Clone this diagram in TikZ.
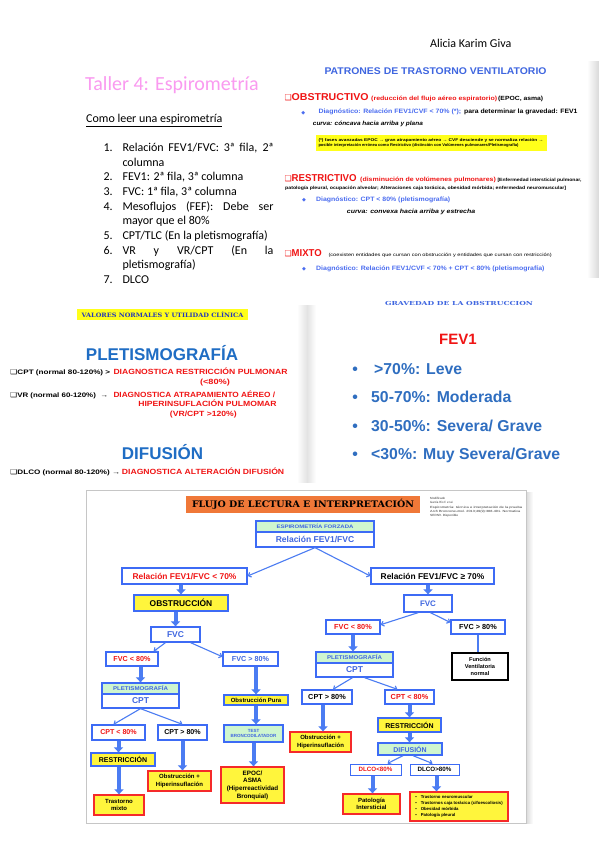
\documentclass[tikz,border=0pt]{standalone}
\usepackage{fontspec}
\usepackage{graphicx}
\setmainfont{Liberation Sans}
\newfontfamily\calib{Carlito}
\newfontfamily\slab{DejaVu Serif}
\newfontfamily\dvs{DejaVu Sans}
\usetikzlibrary{arrows.meta,calc}

\definecolor{tpink}{HTML}{FA9AF0}
\definecolor{tred}{HTML}{F01414}
\definecolor{sblue}{HTML}{3F66E0}
\definecolor{dblue}{HTML}{4A6CF0}
\definecolor{pblue}{HTML}{1F6DC4}
\definecolor{lblue}{HTML}{2F6EC0}
\definecolor{bxblue}{HTML}{3D6BF5}
\definecolor{arblue}{HTML}{4B7CF2}
\definecolor{fgrn}{HTML}{CFF6CF}
\definecolor{fyel}{HTML}{FFF53C}
\definecolor{tyel}{HTML}{FFFF1A}
\definecolor{forg}{HTML}{F07838}
\definecolor{bxred}{HTML}{F52A2A}
\definecolor{vblue}{HTML}{2438B8}

\newcommand\fsz[2]{\fontsize{#1}{#2}\selectfont}
\newcommand\fitw[2]{\resizebox{#1}{\height}{#2}}

\tikzset{
 txt/.style={inner sep=0pt, anchor=base west},
 ctxt/.style={inner sep=0pt, anchor=base},
 fb/.style={draw=bxblue, line width=1.3pt, fill=white, inner sep=0pt, align=center},
 yb/.style={fb, fill=fyel},
 gb/.style={fb, fill=fgrn},
 rb/.style={draw=bxred, line width=1.3pt, fill=fyel, inner sep=0pt, align=center},
 tarr/.style={draw=arblue, line width=4pt, -{Triangle[width=9pt,length=5pt]}},
 narr/.style={draw=arblue, line width=1.1pt, -{Straight Barb[length=2.5pt,width=5pt]}},
}

\begin{document}
\begin{tikzpicture}[x=1pt,y=-1pt]
\useasboundingbox (0,0) rectangle (599,848);
\fill[white] (0,0) rectangle (599,848);

% ---------- shadows ----------
\shade[left color=white,right color=gray!30] (587,62) rectangle (599,277);
\shade[left color=white,right color=gray!22] (297,305) rectangle (307,482);
\shade[left color=gray!22,right color=white] (307,305) rectangle (316,482);

% ---------- header / top left ----------
\node[txt, font=\calib\fsz{12}{12}] (auth) at (430,48) {Alicia Karim Giva};
\node[txt, font=\calib\fsz{20}{20}, text=tpink] (tit) at (85,91) {Taller 4: Espirometría};
\node[txt, font=\calib\fsz{12}{12}] (como) at (86,122.7) {\underline{Como leer una espirometría}};

\begin{scope}[every node/.style={txt, font=\calib\fsz{12}{12}}]
\node (n1) at (103.3,151.5) {1.};
\node (i1a) at (122.3,151.5) {\makebox[151pt][s]{Relación FEV1/FVC: 3ª fila, 2ª}};
\node (i1b) at (122.3,166.15) {columna};
\node (n2) at (103.3,180.8) {2.};
\node (i2) at (122.3,180.8) {FEV1: 2ª fila, 3ª columna};
\node (n3) at (103.3,195.45) {3.};
\node (i3) at (122.3,195.45) {FVC: 1ª fila, 3ª columna};
\node (n4) at (103.3,210.1) {4.};
\node (i4a) at (122.3,210.1) {\makebox[151pt][s]{Mesoflujos (FEF): Debe ser}};
\node (i4b) at (122.3,224.75) {mayor que el 80\%};
\node (n5) at (103.3,239.4) {5.};
\node (i5) at (122.3,239.4) {CPT/TLC (En la pletismografía)};
\node (n6) at (103.3,254.05) {6.};
\node (i6a) at (122.3,254.05) {\makebox[151pt][s]{VR y VR/CPT (En la}};
\node (i6b) at (122.3,268.7) {pletismografía)};
\node (n7) at (103.3,283.35) {7.};
\node (i7) at (122.3,283.35) {DLCO};
\end{scope}

% ---------- top right: patrones ----------
\node[ctxt, font=\bfseries\fsz{9.7}{9.7}, text=sblue] (pat) at (435.5,74.3) {\fitw{222pt}{PATRONES DE TRASTORNO VENTILATORIO}};

\node[txt, font=\dvs\fsz{8}{8}, text=tred] (sq1) at (284.5,100.7) {❑};
\node[txt, font=\bfseries\fsz{10}{10}, text=tred] (obst) at (291.5,100.7) {\fitw{77pt}{OBSTRUCTIVO}};
\node[txt, font=\bfseries\fsz{6}{6}, text=tred] (obst2) at (371,100.7) {\fitw{126pt}{(reducción del flujo aéreo espiratorio)}};
\node[txt, font=\bfseries\fsz{6}{6}] (obst3) at (498,100.7) {\fitw{45pt}{(EPOC, asma)}};
\node[ctxt, font=\dvs\fsz{5}{5}, text=dblue] (d1) at (303.3,114) {◆};
\node[txt, font=\bfseries\fsz{6.3}{6.3}, text=dblue] (dg1) at (318.3,114) {\fitw{142.7pt}{Diagnóstico: Relación FEV1/CVF < 70\% (*);}};
\node[txt, font=\bfseries\fsz{6.3}{6.3}] (dg1b) at (464,114) {\fitw{113.3pt}{para determinar la gravedad: FEV1}};
\node[txt, font=\bfseries\itshape\fsz{6}{6}] (cv1) at (312.7,125.7) {\fitw{110pt}{curva: cóncava hacia arriba y plana}};
\node[fill=tyel, inner sep=0pt, minimum width=231pt, minimum height=15.7pt] (note) at (431.5,142.9) {};
\node[txt, font=\bfseries\fsz{4}{4}] (nt1) at (318.3,141) {\fitw{225pt}{(*) fases avanzadas EPOC → gran atrapamiento aéreo → CVF desciende y se normaliza relación →}};
\node[txt, font=\bfseries\fsz{4}{4}] (nt2) at (318.3,146.8) {\fitw{200pt}{posible interpretación errónea como Restrictivo (distinción con Volúmenes pulmonares/Pletismografía)}};

\node[txt, font=\dvs\fsz{8}{8}, text=tred] (sq2) at (284.5,181) {❑};
\node[txt, font=\bfseries\fsz{10}{10}, text=tred] (rest) at (291.5,181) {\fitw{65pt}{RESTRICTIVO}};
\node[txt, font=\bfseries\fsz{6}{6}, text=tred] (rest2) at (360,181) {\fitw{135.7pt}{(disminución de volúmenes pulmonares)}};
\node[txt, font=\bfseries\fsz{4.5}{4.5}] (rest3) at (497.3,181) {\fitw{84pt}{[Enfermedad intersticial pulmonar,}};
\node[txt, font=\bfseries\fsz{4.5}{4.5}] (rest4) at (285,189) {\fitw{281pt}{patología pleural, ocupación alveolar; Alteraciones caja torácica, obesidad mórbida; enfermedad neuromuscular]}};
\node[ctxt, font=\dvs\fsz{5}{5}, text=dblue] (d2) at (304,201) {◆};
\node[txt, font=\bfseries\fsz{6.3}{6.3}, text=dblue] (dg2) at (316,201) {\fitw{134pt}{Diagnóstico: CPT < 80\% (pletismografía)}};
\node[txt, font=\bfseries\itshape\fsz{6}{6}] (cv2) at (346.7,213.5) {\fitw{128.3pt}{curva: convexa hacia arriba y estrecha}};

\node[txt, font=\dvs\fsz{8}{8}, text=tred] (sq3) at (284.5,256) {❑};
\node[txt, font=\bfseries\fsz{10}{10}, text=tred] (mix) at (291.5,256) {\fitw{30pt}{MIXTO}};
\node[txt, font=\fsz{4.5}{4.5}] (mix2) at (328.3,256) {\fitw{223.3pt}{(coexisten entidades que cursan con obstrucción y entidades que cursan con restricción)}};
\node[ctxt, font=\dvs\fsz{5}{5}, text=dblue] (d3) at (304,270.5) {◆};
\node[txt, font=\bfseries\fsz{6.3}{6.3}, text=dblue] (dg3) at (316,270.5) {\fitw{228.3pt}{Diagnóstico: Relación FEV1/CVF < 70\% + CPT < 80\% (pletismografía)}};

% ---------- middle left ----------
\node[fill=tyel, inner sep=0pt, minimum width=171pt, minimum height=11pt, font=\slab\bfseries\fsz{6}{6}, text=vblue] (val) at (162.5,314.5) {\fitw{161.7pt}{VALORES NORMALES Y UTILIDAD CLÍNICA}};
\node[ctxt, font=\bfseries\fsz{17}{17}, text=pblue] (ple) at (162,360) {PLETISMOGRAFÍA};
\node[txt, font=\bfseries\fsz{6.5}{6.5}] (cpt0) at (10,374.5) {\fitw{100pt}{{\dvs\mdseries ❑}CPT (normal 80-120\%) >}};
\node[txt, font=\bfseries\fsz{7.5}{7.5}, text=tred] (cpt1) at (113.3,374.5) {\fitw{174pt}{DIAGNOSTICA RESTRICCIÓN PULMONAR}};
\node[ctxt, font=\bfseries\fsz{7.5}{7.5}, text=tred] (cpt2) at (215,384) {\fitw{30pt}{(<80\%)}};
\node[txt, font=\bfseries\fsz{6.5}{6.5}] (vr0) at (10,397) {\fitw{98pt}{{\dvs\mdseries ❑}VR (normal 60-120\%) \ →}};
\node[txt, font=\bfseries\fsz{7.5}{7.5}, text=tred] (vr1) at (113.3,397) {\fitw{161.7pt}{DIAGNOSTICA ATRAPAMIENTO AÉREO /}};
\node[ctxt, font=\bfseries\fsz{7.5}{7.5}, text=tred] (vr2) at (207.5,406.5) {\fitw{138.3pt}{HIPERINSUFLACIÓN PULMOMAR}};
\node[ctxt, font=\bfseries\fsz{7.5}{7.5}, text=tred] (vr3) at (203.3,416.5) {\fitw{66.7pt}{(VR/CPT >120\%)}};
\node[ctxt, font=\bfseries\fsz{17}{17}, text=pblue] (dif) at (162.5,459) {DIFUSIÓN};
\node[txt, font=\bfseries\fsz{6.5}{6.5}] (dl0) at (10,474) {\fitw{110pt}{{\dvs\mdseries ❑}DLCO (normal 80-120\%) →}};
\node[txt, font=\bfseries\fsz{7.5}{7.5}, text=tred] (dl1) at (121.7,474) {\fitw{162.3pt}{DIAGNOSTICA ALTERACIÓN DIFUSIÓN}};

% ---------- middle right ----------
\node[ctxt, font=\slab\bfseries\fsz{5.5}{5.5}, text=sblue] (grav) at (459,305.5) {\fitw{148pt}{GRAVEDAD DE LA OBSTRUCCION}};
\node[ctxt, font=\bfseries\fsz{15}{15}, text=tred] (fev) at (458,344) {FEV1};
\begin{scope}[every node/.style={txt, font=\bfseries\fsz{15.8}{15.8}, text=lblue}]
\node (b1) at (352.2,374) {•};
\node (g1) at (374,374) {>70\%: Leve};
\node (b2) at (352.2,402.7) {•};
\node (g2) at (371,402.7) {50-70\%: Moderada};
\node (b3) at (352.2,431) {•};
\node (g3) at (371,431) {30-50\%: Severa/ Grave};
\node (b4) at (352.2,459.3) {•};
\node (g4) at (371,459.3) {<30\%: Muy Severa/Grave};
\end{scope}

% ---------- flowchart panel ----------
\shade[left color=gray!30,right color=white] (526,492) rectangle (533,823);
\draw[gray!45, line width=0.7pt, fill=white] (86,490) rectangle (526,823);

\node[fill=forg, inner sep=0pt, minimum width=234pt, minimum height=17.3pt, font=\slab\bfseries\fsz{9}{9}] (ftit) at (303,504.7) {\fitw{222pt}{FLUJO DE LECTURA E INTERPRETACIÓN}};
\begin{scope}[every node/.style={txt, font=\fsz{3}{3}, text=black!80}]
\node (a1) at (430,499.5) {\fitw{15pt}{Modificado}};
\node (a2) at (430,503.6) {\fitw{23pt}{García Río F. et al.}};
\node (a3) at (430,508) {\fitw{92pt}{Espirometría: técnica e interpretación de la prueba}};
\node (a4) at (430,512) {\fitw{90pt}{Arch Bronconeumol. 2013;49(9):388-401. Normativa}};
\node (a5) at (430,516.3) {\fitw{28pt}{SEPAR. Disponible}};
\end{scope}

% top boxes
\node[gb, minimum width=118pt, minimum height=11pt, text=sblue, font=\bfseries\fsz{5}{5}] (efh) at (315,526.5) {\fitw{77pt}{ESPIROMETRÍA FORZADA}};
\node[fb, minimum width=118pt, minimum height=15pt, text=sblue, font=\bfseries\fsz{8.5}{9}] (efb) at (315,539.5) {Relación FEV1/FVC};
\node[fb, minimum width=125pt, minimum height=16pt, text=tred, font=\bfseries\fsz{8.4}{9}] (L1) at (184.5,576) {Relación FEV1/FVC < 70\%};
\node[fb, minimum width=123pt, minimum height=16pt, text=black, font=\bfseries\fsz{8.4}{9}] (R1) at (432.5,576) {Relación FEV1/FVC ≥ 70\%};

% left branch
\node[yb, minimum width=94pt, minimum height=16pt, font=\bfseries\fsz{8.4}{9}] (OBS) at (181,603) {OBSTRUCCIÓN};
\node[fb, minimum width=49pt, minimum height=15pt, text=sblue, font=\bfseries\fsz{8.5}{9}] (FVCL) at (175.5,634.5) {FVC};
\node[fb, minimum width=52pt, minimum height=14pt, text=tred, font=\bfseries\fsz{7.2}{8}] (FVCL1) at (132,659) {FVC < 80\%};
\node[fb, minimum width=55pt, minimum height=14pt, text=sblue, font=\bfseries\fsz{7.2}{8}] (FVCL2) at (250.5,659) {FVC > 80\%};
\node[gb, minimum width=77pt, minimum height=11pt, text=sblue, font=\bfseries\fsz{5.5}{6}] (PLh) at (140.5,688.5) {\fitw{55pt}{PLETISMOGRAFÍA}};
\node[fb, minimum width=77pt, minimum height=14pt, text=sblue, font=\bfseries\fsz{8.5}{9}] (PLb) at (140.5,701) {CPT};
\node[fb, minimum width=53pt, minimum height=15pt, text=tred, font=\bfseries\fsz{7.1}{8}] (CPTL1) at (118.5,732.5) {CPT < 80\%};
\node[fb, minimum width=49pt, minimum height=15pt, text=black, font=\bfseries\fsz{7.1}{8}] (CPTL2) at (182.5,732.5) {CPT > 80\%};
\node[yb, minimum width=64pt, minimum height=13pt, font=\bfseries\fsz{7}{8}] (RESL) at (123,759.5) {RESTRICCIÓN};
\node[rb, minimum width=50pt, minimum height=20pt, font=\bfseries\fsz{6}{7.6}] (TMIX) at (119,805) {Trastorno\\mixto};
\node[rb, minimum width=63pt, minimum height=20pt, font=\bfseries\fsz{6}{7.6}] (OHL) at (179.5,781) {Obstrucción +\\Hiperinsuflación};
\node[yb, minimum width=64pt, minimum height=10pt, font=\bfseries\fsz{6}{7}] (OBSP) at (256,700) {Obstrucción Pura};
\node[gb, minimum width=59pt, minimum height=17pt, text=sblue, font=\bfseries\fsz{4.5}{5.2}] (TBD) at (253.5,733.5) {TEST\\BRONCODILATADOR};
\node[rb, minimum width=63pt, minimum height=36pt, font=\bfseries\fsz{6.3}{7.6}] (EPOC) at (252.5,785) {EPOC/\\ASMA\\(Hiperreactividad\\Bronquial)};

% right branch
\node[fb, minimum width=48pt, minimum height=17pt, text=sblue, font=\bfseries\fsz{8}{9}] (FVCR) at (428,603.5) {FVC};
\node[fb, minimum width=54pt, minimum height=14pt, text=tred, font=\bfseries\fsz{7.3}{8}] (FVCR1) at (353,627) {FVC < 80\%};
\node[fb, minimum width=54pt, minimum height=14pt, text=black, font=\bfseries\fsz{7.3}{8}] (FVCR2) at (478,627) {FVC > 80\%};
\node[gb, minimum width=77pt, minimum height=11pt, text=sblue, font=\bfseries\fsz{5.5}{6}] (PRh) at (354.5,657.5) {\fitw{55pt}{PLETISMOGRAFÍA}};
\node[fb, minimum width=77pt, minimum height=14pt, text=sblue, font=\bfseries\fsz{8.5}{9}] (PRb) at (354.5,670) {CPT};
\node[draw=black, line width=1.8pt, fill=white, inner sep=0pt, align=center, minimum width=56pt, minimum height=27pt, font=\bfseries\fsz{5.6}{7.2}] (FVN) at (480,666.5) {Función\\Ventilatoria\\normal};
\node[fb, minimum width=50pt, minimum height=14pt, text=black, font=\bfseries\fsz{7.3}{8}] (CPTR1) at (327,697) {CPT > 80\%};
\node[fb, minimum width=49pt, minimum height=14pt, text=tred, font=\bfseries\fsz{7.3}{8}] (CPTR2) at (409.5,697) {CPT < 80\%};
\node[rb, minimum width=61pt, minimum height=20pt, font=\bfseries\fsz{6}{7.6}] (OHR) at (320.5,742) {Obstrucción +\\Hiperinsuflación};
\node[yb, minimum width=63pt, minimum height=14pt, font=\bfseries\fsz{7}{8}] (RESR) at (409.5,725) {RESTRICCIÓN};
\node[gb, minimum width=64pt, minimum height=12pt, text=sblue, font=\bfseries\fsz{7}{8}] (DIF) at (410,749) {DIFUSIÓN};
\node[fb, line width=1pt, minimum width=51pt, minimum height=11pt, text=tred, font=\bfseries\fsz{6.2}{7}] (DL1) at (375.5,769.5) {DLCO<80\%};
\node[fb, line width=1pt, minimum width=49pt, minimum height=11pt, text=black, font=\bfseries\fsz{6.2}{7}] (DL2) at (434.5,769.5) {DLCO>80\%};
\node[rb, minimum width=57pt, minimum height=20pt, font=\bfseries\fsz{6}{7.6}] (PINT) at (371.5,804) {Patología\\Intersticial};
\node[rb, minimum width=98pt, minimum height=29pt, font=\bfseries\fsz{4.3}{6}] (BUL) at (459,806.5) {\begin{tabular}{@{}l@{\hspace{4pt}}l@{}}•&Trastorno neuromuscular\\•&Trastornos caja torácica (cifoescoliosis)\\•&Obesidad mórbida\\•&Patología pleural\end{tabular}};

% ---------- connectors ----------
\draw[narr] (efb.south) -- (L1.east);
\draw[narr] (efb.south) -- (R1.west);
\draw[tarr] (L1.south -| OBS.north) -- (OBS.north);
\draw[tarr] (OBS.south -| FVCL.north) -- (FVCL.north);
\draw[narr] ($(FVCL.south west)!0.3!(FVCL.south east)$) -- ($(FVCL1.north east)+(-5,0)$);
\draw[narr] ($(FVCL.south west)!0.8!(FVCL.south east)$) -- ($(FVCL2.north west)!0.35!(FVCL2.south west)$);
\draw[tarr] (FVCL1.south -| PLh.north) -- (PLh.north);
\draw[narr] (PLb.south) -- ($(CPTL1.north)+(-5,0)$);
\draw[narr] (PLb.south) -- (CPTL2.north);
\draw[tarr] (CPTL1.south) -- (CPTL1.south |- RESL.north);
\draw[tarr] (RESL.south -| TMIX.north) -- (TMIX.north);
\draw[tarr] (CPTL2.south) -- (CPTL2.south |- OHL.north);
\draw[tarr] (FVCL2.south -| OBSP.north) -- (OBSP.north);
\draw[tarr] (OBSP.south) -- (OBSP.south |- TBD.north);
\draw[tarr] (TBD.south) -- (TBD.south |- EPOC.north);

\draw[tarr] (R1.south -| FVCR.north) -- (FVCR.north);
\draw[narr] ($(FVCR.south west)!0.3!(FVCR.south east)$) -- ($(FVCR1.north east)!0.35!(FVCR1.south east)$);
\draw[narr] ($(FVCR.south west)!0.55!(FVCR.south east)$) -- ($(FVCR2.north west)!0.2!(FVCR2.south west)$);
\draw[tarr] (FVCR1.south) -- (FVCR1.south |- PRh.north);
\draw[draw=arblue, line width=2.2pt] (FVCR2.south) -- (FVCR2.south |- FVN.north);
\draw[narr] ($(PRb.south)+(-2,0)$) -- ($(CPTR1.north)+(6,0)$);
\draw[narr] ($(PRb.south)+(10,0)$) -- ($(CPTR2.north)+(-12,0)$);
\draw[tarr] ($(CPTR1.south)+(-4,0)$) -- ($(CPTR1.south |- OHR.north)+(-4,0)$);
\draw[tarr] (CPTR2.south) -- (CPTR2.south |- RESR.north);
\draw[tarr] (RESR.south) -- (RESR.south |- DIF.north);
\draw[narr] ($(DIF.south)+(-7,0)$) -- ($(DL1.north)+(12,0)$);
\draw[narr] ($(DIF.south)+(3,0)$) -- ($(DL2.north)+(-2,0)$);
\draw[tarr] ($(DL1.south)+(-3,0)$) -- ($(DL1.south |- PINT.north)+(-3,0)$);
\draw[tarr] ($(DL2.south)+(2,0)$) -- ($(DL2.south |- BUL.north)+(2,0)$);
\end{tikzpicture}
\end{document}
